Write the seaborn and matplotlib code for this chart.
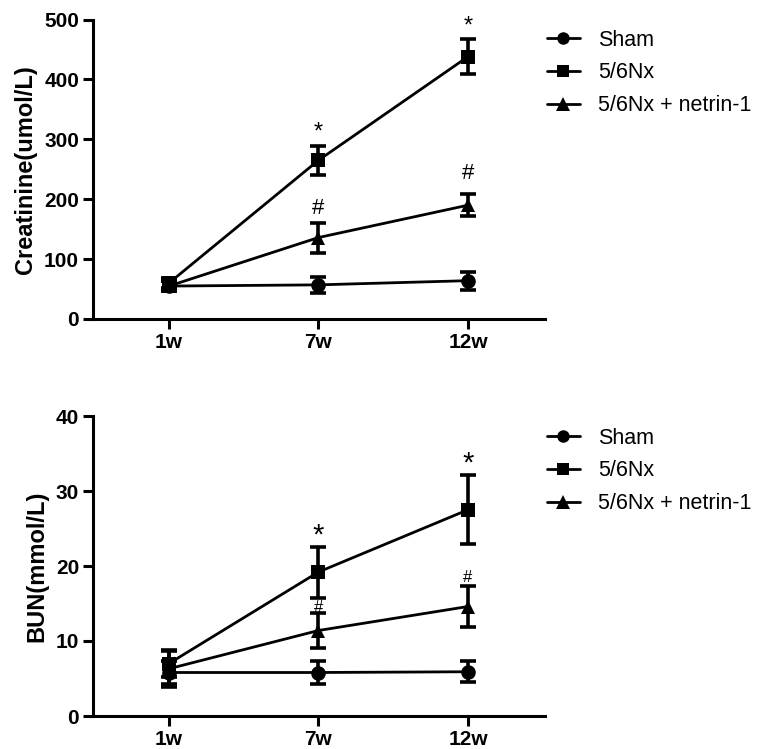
import numpy as np
import pandas as pd
import matplotlib
matplotlib.use("Agg")
import matplotlib.pyplot as plt
import seaborn as sns
from matplotlib.lines import Line2D

# ---- data ----
weeks = ["1w", "7w", "12w"]
groups = ["Sham", "5/6Nx", "5/6Nx + netrin-1"]

creat_sham = [55, 57, 64]
creat_nx = [60, 265, 438]
creat_net = [55, 136, 190]
creat_sham_err = [8, 13, 15]
creat_nx_err = [8, 24, 29]
creat_net_err = [8, 25, 18]

bun_sham = [5.8, 5.8, 5.9]
bun_nx = [7.0, 19.2, 27.5]
bun_net = [6.3, 11.4, 14.6]
bun_sham_err = [1.5, 1.5, 1.4]
bun_nx_err = [1.8, 3.4, 4.6]
bun_net_err = [2.4, 2.3, 2.7]

# significance marks: (symbol, week index, y)
creat_marks = [("*", 1, 312), ("*", 2, 489), ("#", 1, 185), ("#", 2, 243)]
bun_marks = [("*", 1, 24.0), ("*", 2, 33.6), ("#", 1, 14.4), ("#", 2, 18.4)]

sns.set_theme(style="ticks")
plt.rcParams["font.family"] = ["Liberation Sans", "DejaVu Sans"]
plt.rcParams.update({"text.color": "black", "axes.labelcolor": "black",
                     "xtick.color": "black", "ytick.color": "black",
                     "axes.edgecolor": "black"})

fig = plt.figure(figsize=(7.73, 7.49), dpi=100)
W, H = 773, 749
ax1 = fig.add_axes([93 / W, 1 - 319 / H, (545 - 93) / W, (319 - 19.5) / H])
ax2 = fig.add_axes([93 / W, 1 - 716 / H, (545 - 93) / W, (716 - 416) / H])

markers = {"Sham": "o", "5/6Nx": "s", "5/6Nx + netrin-1": "^"}
msizes = {"Sham": 9, "5/6Nx": 9, "5/6Nx + netrin-1": 10}


def panel(ax, vals, errs, marks, ylim, yticks, ylabel, star_sizes):
    xpos = np.arange(len(weeks))
    rows = []
    for g, v in zip(groups, vals):
        for i, w in enumerate(weeks):
            rows.append({"x": xpos[i], "value": v[i], "group": g})
    df = pd.DataFrame(rows)
    for g, v, e in zip(groups, vals, errs):
        ax.errorbar(xpos, v, yerr=e, fmt="none", ecolor="black",
                    elinewidth=2.6, capsize=6, capthick=2.6, zorder=2)
    sns.lineplot(data=df, x="x", y="value", hue="group", style="group",
                 markers=markers, dashes=False, palette=["black"] * 3,
                 linewidth=2.0, markersize=10.5, markeredgewidth=0,
                 ax=ax, legend=False, zorder=3)
    for sym, i, y in marks:
        ax.text(xpos[i], y, sym, ha="center", va="center",
                fontsize=star_sizes[sym], color="black")
    ax.set_xlim(-0.508, 2.515)
    ax.set_ylim(*ylim)
    ax.set_yticks(yticks)
    ax.set_xticks(xpos)
    ax.set_xticklabels(weeks)
    ax.set_xlabel("")
    ax.set_ylabel(ylabel, fontsize=17, fontweight="bold", labelpad=5)
    for lab in ax.get_xticklabels() + ax.get_yticklabels():
        lab.set_fontweight("bold")
        lab.set_fontsize(15)
    sns.despine(ax=ax)
    for s in ["left", "bottom"]:
        ax.spines[s].set_linewidth(2.2)
        ax.spines[s].set_color("black")
        ax.spines[s].set_zorder(5)
    ax.tick_params(axis="both", width=2.2, length=7, color="black", pad=3)
    for ln in ax.lines:
        ln.set_clip_on(False)


panel(ax1, [creat_sham, creat_nx, creat_net],
      [creat_sham_err, creat_nx_err, creat_net_err], creat_marks,
      (0, 500), [0, 100, 200, 300, 400, 500], "Creatinine(umol/L)",
      {"*": 17, "#": 16})
panel(ax2, [bun_sham, bun_nx, bun_net],
      [bun_sham_err, bun_nx_err, bun_net_err], bun_marks,
      (0, 40), [0, 10, 20, 30, 40], "BUN(mmol/L)",
      {"*": 21, "#": 12})

handles = [Line2D([], [], color="black", lw=2.0, marker=markers[g],
                  markersize=msizes[g], markeredgewidth=0) for g in groups]
for ytop in [21, 419]:
    fig.legend(handles, groups, loc="upper left",
               bbox_to_anchor=(538 / W, 1 - ytop / H),
               frameon=False, fontsize=15.5, handlelength=1.55,
               handletextpad=0.85, labelspacing=0.55, borderaxespad=0)

fig.savefig("out.png", dpi=100)
